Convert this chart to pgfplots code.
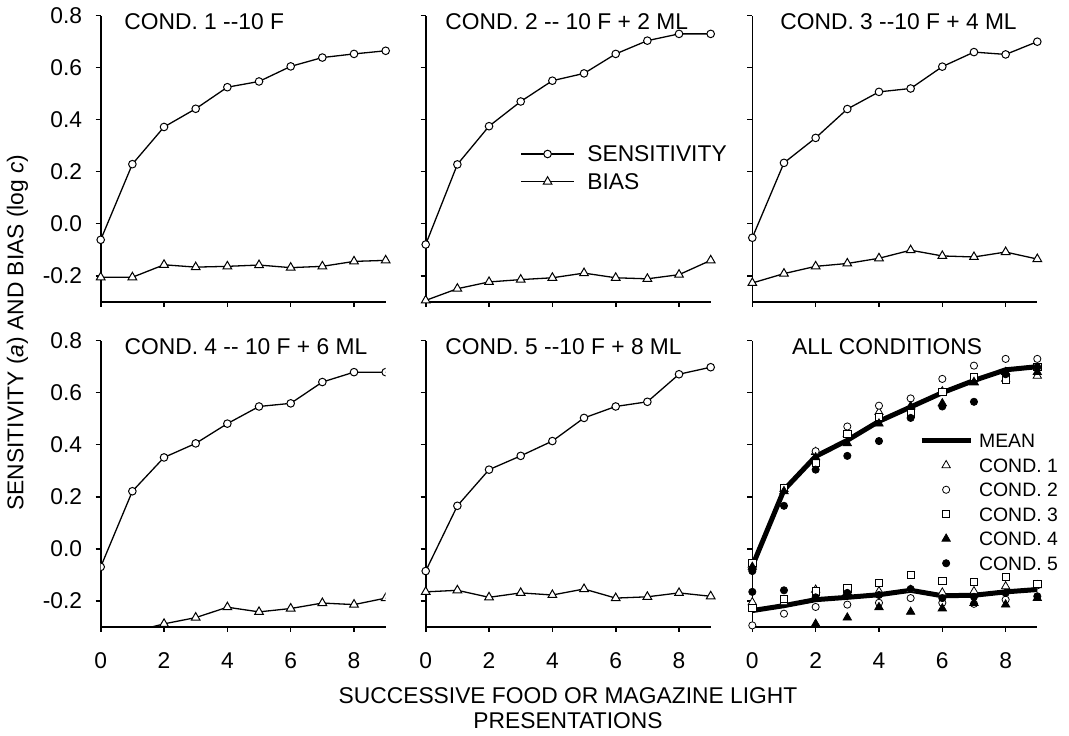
\documentclass[border=0pt]{standalone}
\usepackage{fontspec}
\setmainfont{Liberation Sans}
\usepackage{pgfplots}
\usepackage{pgfplotstable}
\pgfplotsset{compat=1.18}

\newcommand\fs{\fontsize{11.4}{13}\selectfont}
\newcommand\fl{\fontsize{9.7}{11}\selectfont}

\pgfplotstableread{
x s1 b1 s2 b2 s3 b3 s4 b4 s5 b5 sm bm
0 -0.062 -0.206 -0.080 -0.295 -0.054 -0.228 -0.070 -0.310 -0.086 -0.166 -0.067 -0.238
1 0.229 -0.206 0.228 -0.250 0.234 -0.192 0.221 -0.320 0.165 -0.160 0.226 -0.219
2 0.372 -0.158 0.375 -0.224 0.330 -0.164 0.351 -0.289 0.304 -0.187 0.355 -0.196
3 0.442 -0.167 0.470 -0.215 0.441 -0.153 0.405 -0.265 0.357 -0.170 0.417 -0.187
4 0.525 -0.164 0.550 -0.208 0.507 -0.133 0.481 -0.225 0.414 -0.178 0.490 -0.177
5 0.547 -0.159 0.578 -0.190 0.520 -0.102 0.547 -0.243 0.503 -0.155 0.545 -0.160
6 0.605 -0.169 0.653 -0.208 0.604 -0.124 0.559 -0.230 0.547 -0.190 0.600 -0.181
7 0.639 -0.164 0.704 -0.212 0.660 -0.128 0.641 -0.209 0.565 -0.185 0.647 -0.179
8 0.653 -0.145 0.730 -0.196 0.651 -0.109 0.679 -0.215 0.671 -0.170 0.688 -0.166
9 0.665 -0.141 0.730 -0.141 0.700 -0.136 0.679 -0.190 0.698 -0.183 0.700 -0.157
}\data

\pgfplotsset{
  panel/.style={
    scale only axis, width=142.5pt, height=143pt,
    xmin=0, xmax=9, ymin=-0.3, ymax=0.8,
    axis x line=bottom, axis y line=left,
    axis line style={-, line width=0.8pt},
    tick align=outside, major tick length=2.5pt,
    tick style={line width=0.8pt, black},
    xtick={0,2,4,6,8}, ytick={-0.2,0,0.2,0.4,0.6,0.8},
    xticklabels={}, yticklabels={},
    tick label style={font=\fs},
    xticklabel style={yshift=-7pt},
    yticklabel style={xshift=-3.25pt},
    clip mode=individual,
  },
  ylab/.style={yticklabels={-0.2,0.0,0.2,0.4,0.6,0.8}},
  xlab/.style={xticklabels={0,2,4,6,8}},
  sens/.style={black, line width=0.65pt, mark=*, mark size=1.9pt, mark options={fill=white, line width=0.5pt}},
  bias/.style={black, line width=0.65pt, mark=triangle*, mark size=2.5pt, mark options={fill=white, line width=0.5pt}},
}
\newcommand\ttl[2]{\node[anchor=west, inner sep=0pt, font=\fs, xshift=#1] at (rel axis cs:0,1) [yshift=-3.2pt] {#2};}

\begin{document}
\begin{tikzpicture}
\useasboundingbox (0,0) rectangle (534.5pt,367.5pt);

% Panel 1
\begin{axis}[panel, ylab, at={(50.35pt,216.65pt)}, anchor=south west]
\addplot[sens] table[x=x, y=s1] {\data};
\addplot[bias] table[x=x, y=b1] {\data};
\ttl{11.65pt}{COND. 1 -{}-10 F}
\end{axis}

% Panel 2
\begin{axis}[panel, at={(212.85pt,216.65pt)}, anchor=south west,
  legend style={draw=none, fill=none, at={(rel axis cs:0.331,0.468)}, anchor=west,
    inner xsep=0pt, inner ysep=0pt, row sep=5.85pt, column sep=6.3pt,
    nodes={inner sep=0pt, text height=8pt, text depth=0pt, font=\fs}},
  legend cell align=left,
  legend image code/.code={\draw[mark repeat=2,mark phase=2,#1] plot coordinates {(0pt,0pt) (13.25pt,0pt) (26.5pt,0pt)};},
]
\addplot[sens] table[x=x, y=s2] {\data};
\addlegendentry{SENSITIVITY}
\addplot[bias] table[x=x, y=b2] {\data};
\addlegendentry{BIAS}
\ttl{9.65pt}{COND. 2 -{}- 10 F + 2 ML}
\end{axis}

% Panel 3
\begin{axis}[panel, at={(376.15pt,216.65pt)}, anchor=south west]
\addplot[sens] table[x=x, y=s3] {\data};
\addplot[bias] table[x=x, y=b3] {\data};
\ttl{13.85pt}{COND. 3 -{}-10 F + 4 ML}
\end{axis}

% Panel 4
\begin{axis}[panel, ylab, xlab, at={(50.35pt,54.15pt)}, anchor=south west, clip marker paths=true]
\addplot[sens] table[x=x, y=s4] {\data};
\addplot[bias] table[x=x, y=b4] {\data};
\ttl{11.8pt}{COND. 4 -{}- 10 F + 6 ML}
\end{axis}

% Panel 5
\begin{axis}[panel, xlab, at={(212.85pt,54.15pt)}, anchor=south west]
\addplot[sens] table[x=x, y=s5] {\data};
\addplot[bias] table[x=x, y=b5] {\data};
\ttl{9.65pt}{COND. 5 -{}-10 F + 8 ML}
\end{axis}

% Panel 6
\begin{axis}[panel, xlab, at={(376.15pt,54.15pt)}, anchor=south west,
  restrict y to domain=-0.3:0.8,
  legend style={draw=none, fill=none, at={(rel axis cs:0.584,0.436)}, anchor=west,
    inner xsep=0pt, inner ysep=0pt, row sep=5.25pt, column sep=3pt,
    nodes={inner sep=0pt, text height=7pt, text depth=0pt, font=\fl}},
  legend cell align=left,
  legend image code/.code={\draw[mark repeat=2,mark phase=2,#1] plot coordinates {(0pt,0pt) (12.25pt,0pt) (24.5pt,0pt)};},
  sc/.style={black, only marks, mark size=1.8pt, mark options={line width=0.5pt}},
]
\addplot[black, line width=2.5pt, no marks] table[x=x, y=sm] {\data};
\addlegendentry{MEAN}
\addplot[black, line width=2.5pt, no marks, forget plot] table[x=x, y=bm] {\data};
\addplot[sc, mark=triangle*, mark size=2.4pt, mark options={fill=white}] table[x=x, y=s1] {\data};
\addlegendentry{COND. 1}
\addplot[sc, mark=triangle*, mark size=2.4pt, mark options={fill=white}, forget plot] table[x=x, y=b1] {\data};
\addplot[sc, mark=*, mark options={fill=white}] table[x=x, y=s2] {\data};
\addlegendentry{COND. 2}
\addplot[sc, mark=*, mark options={fill=white}, forget plot] table[x=x, y=b2] {\data};
\addplot[sc, mark=square*, mark options={fill=white}] table[x=x, y=s3] {\data};
\addlegendentry{COND. 3}
\addplot[sc, mark=square*, mark options={fill=white}, forget plot] table[x=x, y=b3] {\data};
\addplot[sc, mark=triangle*, mark size=2.4pt, mark options={fill=black}] table[x=x, y=s4] {\data};
\addlegendentry{COND. 4}
\addplot[sc, mark=triangle*, mark size=2.4pt, mark options={fill=black}, forget plot] table[x=x, y=b4] {\data};
\addplot[sc, mark=*, mark options={fill=black}] table[x=x, y=s5] {\data};
\addlegendentry{COND. 5}
\addplot[sc, mark=*, mark options={fill=black}, forget plot] table[x=x, y=b5] {\data};
\ttl{19.7pt}{ALL CONDITIONS}
\end{axis}

\node[rotate=90, font=\fs, inner sep=0pt] at (8.75pt,201.25pt) {SENSITIVITY (\textit{a}) AND BIAS (log \textit{c})};
\node[align=center, font=\fontsize{11.4}{12.5}\selectfont, inner sep=0pt] at (284pt,13.25pt) {SUCCESSIVE FOOD OR MAGAZINE LIGHT\\PRESENTATIONS};
\end{tikzpicture}
\end{document}
